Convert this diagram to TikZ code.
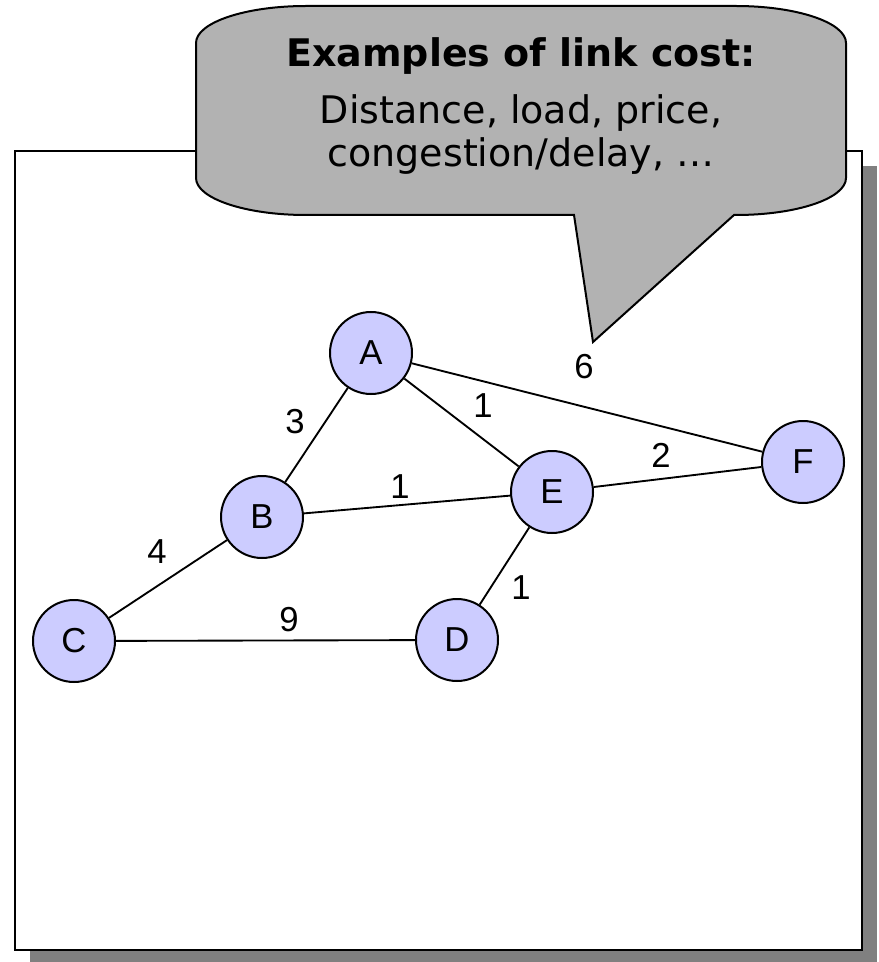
\documentclass[tikz,border=0pt]{standalone}
\usepackage{fontspec}
\setmainfont{Liberation Sans}
\newfontfamily\calloutfont{DejaVu Sans}
\begin{document}
\begin{tikzpicture}[x=0.75pt,y=-0.75pt,
  vertex/.style={circle,draw=black,line width=1.5pt,fill=nodefill,minimum size=61.5pt,inner sep=0pt,font=\fontsize{26}{30}\selectfont},
  link/.style={draw=black,line width=1.4pt},
  cost/.style={inner sep=0pt,font=\fontsize{26}{30}\selectfont},
  calltext/.style={anchor=base,inner sep=0pt,font=\calloutfont\fontsize{28.5}{32}\selectfont}]
\definecolor{nodefill}{HTML}{CCCCFF}
\definecolor{callfill}{HTML}{B2B2B2}
\definecolor{shadowgray}{HTML}{808080}
\useasboundingbox (0,0) rectangle (878,962);
% frame with shadow
\fill[shadowgray] (30,166) rectangle (877,965);
\draw[line width=1.5pt,fill=white] (15,151) rectangle (862,950);
% nodes
\node[vertex] (A) at (371,353) {A};
\node[vertex] (B) at (262,517) {B};
\node[vertex] (C) at (74,641) {C};
\node[vertex] (D) at (457,640) {D};
\node[vertex] (E) at (552,492) {E};
\node[vertex] (F) at (803,462) {F};
% links
\draw[link] (A) -- (F);
\draw[link] (A) -- (E);
\draw[link] (A) -- (B);
\draw[link] (B) -- (E);
\draw[link] (E) -- (F);
\draw[link] (B) -- (C);
\draw[link] (C) -- (D);
\draw[link] (E) -- (D);
% costs
\node[cost] (cAF) at (584,367) {6};
\node[cost] (cAE) at (483,406) {1};
\node[cost] (cAB) at (295,422) {3};
\node[cost] (cEF) at (661,455) {2};
\node[cost] (cBE) at (400,487) {1};
\node[cost] (cBC) at (157,552) {4};
\node[cost] (cED) at (521,588) {1};
\node[cost] (cCD) at (289,620) {9};
% callout
\draw[line width=1.5pt,fill=callfill]
  (306,6) -- (736,6) arc[start angle=270,end angle=360,x radius=110,y radius=37]
  -- (846,178) arc[start angle=0,end angle=90,x radius=110,y radius=37]
  -- (734,215) -- (593,342) -- (574,215) -- (306,215)
  arc[start angle=90,end angle=180,x radius=110,y radius=37]
  -- (196,43) arc[start angle=180,end angle=270,x radius=110,y radius=37] -- cycle;
\node[calltext] (t1) at (521,67) {\bfseries Examples of link cost:};
\node[calltext] (t2) at (521,124) {Distance, load, price,};
\node[calltext] (t3) at (521,167) {congestion/delay, …};
\end{tikzpicture}
\end{document}
